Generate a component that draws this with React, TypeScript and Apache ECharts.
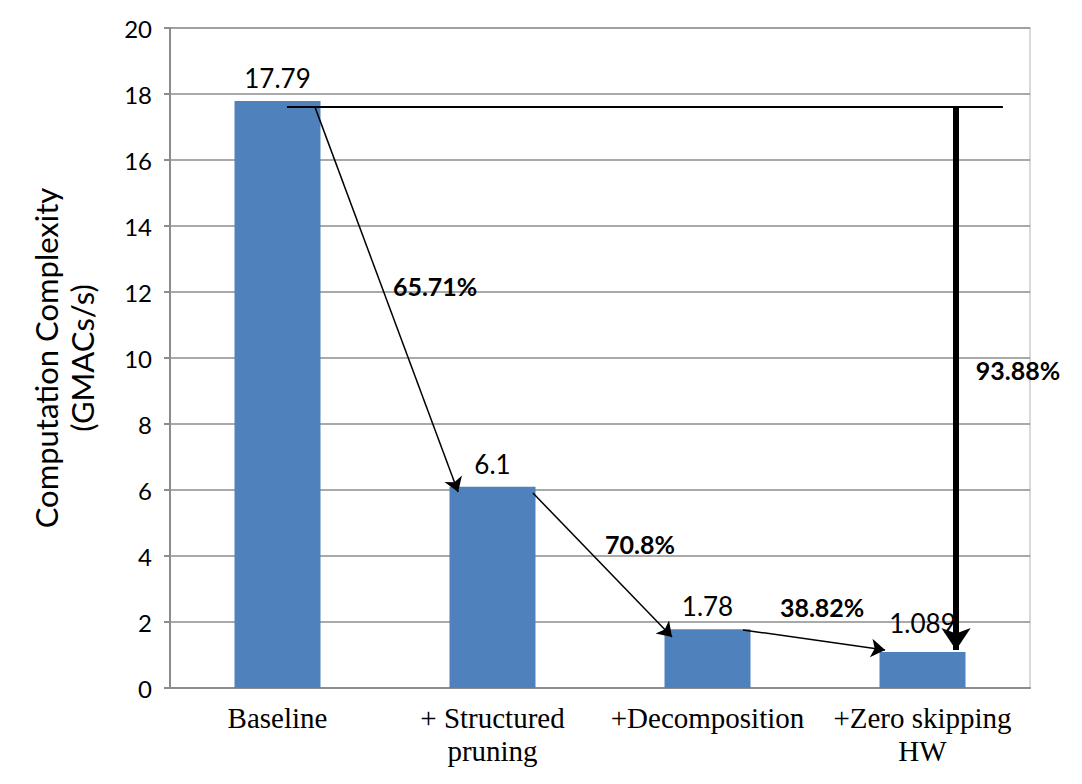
import React, { useEffect, useRef } from 'react';
import * as echarts from 'echarts';

const categories = ['Baseline', '+ Structured\npruning', '+Decomposition', '+Zero skipping\nHW'];
const complexity = [17.79, 6.1, 1.78, 1.089];
const yAxisTitle = 'Computation Complexity\n(GMACs/s)';

// annotations, in (category-position, value) units on a hidden 0..4 axis
const reductionTexts = ['65.71%', '70.8%', '38.82%', '93.88%'];
const reductionAnchors = [
  [1.233, 12.18],
  [2.186, 4.36],
  [3.033, 2.45],
  [3.944, 9.64],
];
const stepArrows = [
  [[0.674, 17.61], [1.34, 5.94]],
  [[1.688, 5.91], [2.335, 1.545]],
  [[2.665, 1.76], [3.326, 1.15]],
];
const baselineLine = [[0.544, 17.61], [3.874, 17.61]];
const totalArrow = [[3.656, 17.61], [3.656, 1.15]];

export default function App() {
  const ref = useRef<HTMLDivElement>(null);
  useEffect(() => {
    document.body.style.margin = '0';
    const chart = echarts.init(ref.current!, null, { renderer: 'svg' });
    const sans = 'Lato';
    chart.setOption({
      animation: false,
      backgroundColor: '#ffffff',
      grid: {
        left: 170,
        right: 52,
        top: 28,
        bottom: 96,
        show: true,
        borderColor: '#d9d9d9',
        borderWidth: 2,
      },
      xAxis: [
        {
          type: 'category',
          data: categories,
          axisLine: { lineStyle: { color: '#8c8c8c', width: 2 } },
          axisTick: { show: false },
          axisLabel: {
            color: '#000',
            fontFamily: 'Liberation Serif',
            fontSize: 29,
            lineHeight: 33,
            margin: 13,
            interval: 0,
          },
        },
        { type: 'value', min: 0, max: 4, show: false },
      ],
      yAxis: {
        type: 'value',
        min: 0,
        max: 20,
        interval: 2,
        name: yAxisTitle,
        nameLocation: 'middle',
        nameRotate: 90,
        nameGap: 70,
        nameTextStyle: { color: '#000', fontFamily: sans, fontSize: 31, lineHeight: 36 },
        axisLine: { show: true, lineStyle: { color: '#8c8c8c', width: 2 } },
        axisTick: { show: true, length: 6, lineStyle: { color: '#8c8c8c', width: 2 } },
        axisLabel: { color: '#000', fontFamily: sans, fontSize: 24, margin: 18 },
        splitLine: { lineStyle: { color: '#8c8c8c', width: 1.5 } },
      },
      series: [
        {
          type: 'bar',
          data: complexity.map((v, i) => (i === 3 ? { value: v, label: { distance: 16 } } : v)),
          barWidth: '40%',
          itemStyle: { color: '#4f81bd' },
          label: {
            show: true,
            position: 'top',
            distance: 10,
            color: '#000',
            fontFamily: sans,
            fontSize: 26,
          },
          z: 2,
        },
        {
          type: 'lines',
          coordinateSystem: 'cartesian2d',
          xAxisIndex: 1,
          yAxisIndex: 0,
          silent: true,
          symbol: ['none', 'none'],
          lineStyle: { color: '#000', width: 2, opacity: 1, curveness: 0 },
          data: [{ coords: baselineLine }],
          z: 5,
        },
        {
          type: 'lines',
          coordinateSystem: 'cartesian2d',
          xAxisIndex: 1,
          yAxisIndex: 0,
          silent: true,
          symbol: ['none', 'arrow'],
          symbolSize: 14,
          lineStyle: { color: '#000', width: 1.5, opacity: 1, curveness: 0 },
          data: stepArrows.map((c) => ({ coords: c })),
          z: 5,
        },
        {
          type: 'lines',
          coordinateSystem: 'cartesian2d',
          xAxisIndex: 1,
          yAxisIndex: 0,
          silent: true,
          symbol: ['none', 'arrow'],
          symbolSize: 22,
          lineStyle: { color: '#000', width: 6, opacity: 1, curveness: 0 },
          data: [{ coords: totalArrow }],
          z: 5,
        },
        {
          type: 'scatter',
          xAxisIndex: 1,
          yAxisIndex: 0,
          symbolSize: 0,
          silent: true,
          itemStyle: { opacity: 1 },
          data: reductionAnchors.map((p, i) => ({ value: p, name: reductionTexts[i] })),
          label: {
            show: true,
            position: 'inside',
            formatter: (p: any) => p.name,
            color: '#000',
            fontFamily: sans,
            fontWeight: 'bold',
            fontSize: 25,
          },
          z: 6,
        },
      ],
    });
    return () => chart.dispose();
  }, []);
  return <div ref={ref} style={{ width: 1082, height: 784 }} />;
}
